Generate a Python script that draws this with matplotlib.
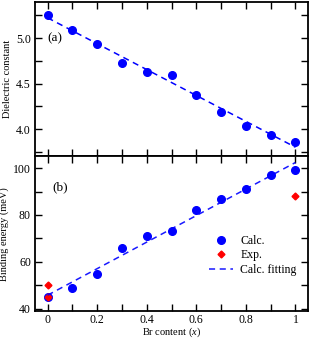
import numpy as np
import matplotlib.pyplot as plt
from matplotlib.ticker import MultipleLocator

plt.rcParams['font.family'] = ['Liberation Serif', 'DejaVu Serif']
plt.rcParams['mathtext.fontset'] = 'custom'
plt.rcParams['mathtext.it'] = 'Liberation Serif:italic'
plt.rcParams['font.size'] = 7.5

# Br content
x = [0.0, 0.1, 0.2, 0.3, 0.4, 0.5, 0.6, 0.7, 0.8, 0.9, 1.0]
# dielectric constant (calc.)
eps = [5.25, 5.09, 4.94, 4.73, 4.63, 4.60, 4.38, 4.19, 4.03, 3.93, 3.86]
# binding energy (meV)
eb_calc = [45, 49, 55, 66, 71, 73, 82, 87, 91, 97, 99]
x_exp = [0.0, 0.0, 1.0]
eb_exp = [50, 45, 88]

fig, (ax1, ax2) = plt.subplots(2, 1, figsize=(3.11, 3.40), dpi=100, sharex=True)
fig.subplots_adjust(left=0.113, right=0.99, top=0.995, bottom=0.085, hspace=0)

xf = np.linspace(0, 1, 50)

p1 = np.polyfit(x, eps, 1)
ax1.plot(x, eps, 'o', color='blue', ms=5.5)
ax1.plot(xf, np.polyval(p1, xf), '--', color='blue', lw=1.1, dashes=(4, 3))
ax1.set_ylim(3.7, 5.4)
ax1.yaxis.set_major_locator(MultipleLocator(0.5))
ax1.yaxis.set_minor_locator(MultipleLocator(0.25))
ax1.set_ylabel('Dielectric constant', labelpad=3)
ax1.text(0.0, 5.0, '(a)', fontsize=9.5, va='center')

p2 = np.polyfit(x, eb_calc, 1)
ax2.plot(x, eb_calc, 'o', color='blue', ms=5.5, label='Calc.')
ax2.plot(x_exp, eb_exp, 'D', color='red', ms=3.5, label='Exp.')
ax2.plot(xf, np.polyval(p2, xf), '--', color='blue', lw=1.1, dashes=(4, 3),
         label='Calc. fitting', alpha=0.9)
ax2.set_ylim(39, 105)
ax2.yaxis.set_major_locator(MultipleLocator(20))
ax2.yaxis.set_minor_locator(MultipleLocator(10))
ax2.set_ylabel('Binding energy (meV)', labelpad=3)
ax2.set_xlabel('Br content ($x$)', labelpad=0)
ax2.text(0.02, 92, '(b)', fontsize=9.5, va='center')
ax2.legend(loc='center left', bbox_to_anchor=(0.6, 0.36), frameon=False,
           handlelength=2.0, handletextpad=0.6, labelspacing=0.2, fontsize=8.5)

ax2.set_xlim(-0.05, 1.05)
ax2.xaxis.set_major_locator(MultipleLocator(0.2))
ax2.xaxis.set_minor_locator(MultipleLocator(0.1))
ax2.set_xticks([0, 0.2, 0.4, 0.6, 0.8, 1.0])
ax2.set_xticklabels(['0', '0.2', '0.4', '0.6', '0.8', '1'])

for ax in (ax1, ax2):
    for s in ax.spines.values():
        s.set_linewidth(1.3)
    ax.tick_params(which='both', direction='in', top=True, right=True,
                   width=1.0, labelsize=8.5, pad=3)
    ax.tick_params(axis='x', pad=2)
    ax.tick_params(which='major', length=5)
    ax.tick_params(which='minor', length=5)

fig.savefig('out.png', dpi=100)
